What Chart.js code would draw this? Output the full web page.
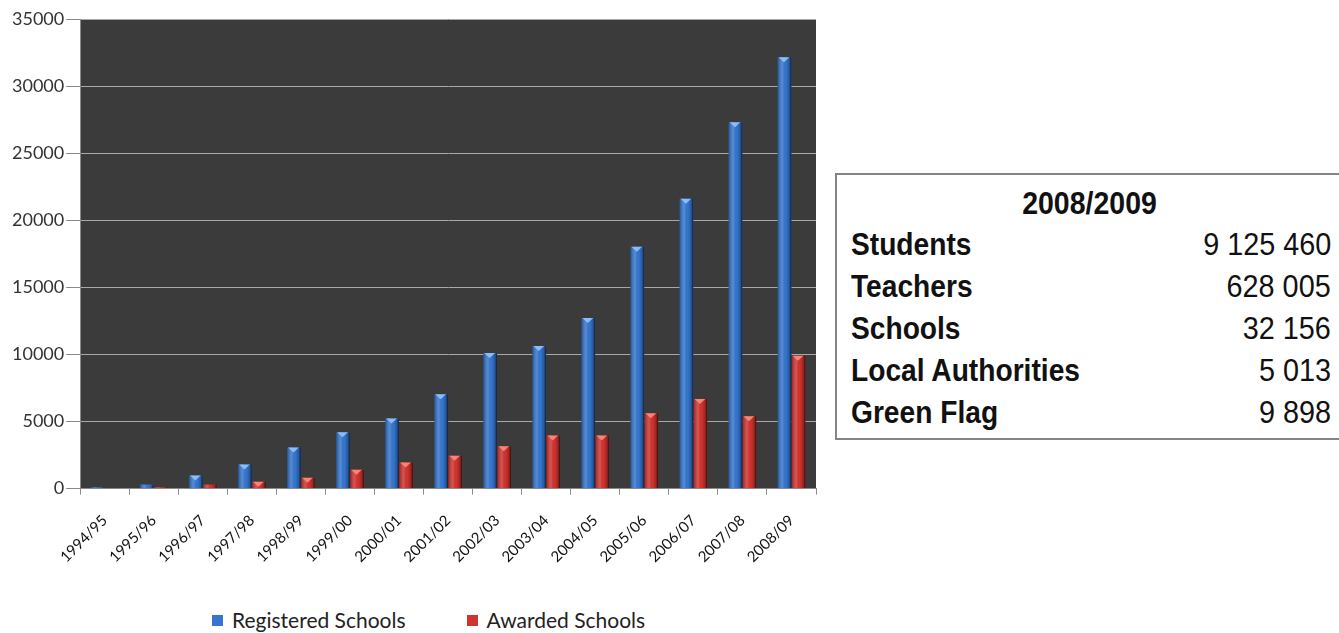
<!DOCTYPE html>
<html>
<head>
<meta charset="utf-8">
<script src="https://cdn.jsdelivr.net/npm/chart.js@4.4.1/dist/chart.umd.min.js"></script>
<style>
  body { margin: 0; background: #fff; width: 1339px; height: 633px; overflow: hidden; position: relative; font-family: Lato, sans-serif; }
  #chart-wrap { position: absolute; left: 0; top: 0; width: 826px; height: 583px; }
  #legend { position: absolute; top: 608px; left: 212px; display: flex; font-size: 21px; color: #222; line-height: 24px; }
  .legend-item { display: flex; align-items: center; margin-right: 61px; }
  .legend-box { width: 11px; height: 11px; margin-right: 9px; }
  #stats { position: absolute; left: 835px; top: 173px; width: 540px; height: 263px; border: 2px solid #858585; font-family: "Liberation Sans Narrow", "Arial Narrow", "Liberation Sans", sans-serif; color: #111; }
  #stats .title { position: absolute; left: 0; top: 8px; width: 505px; text-align: center; font-weight: bold; font-size: 32px; line-height: 40px; transform: scaleX(0.89); }
  #stats .row { position: absolute; left: 14px; width: 480px; font-size: 32px; line-height: 42px; }
  #stats .row b { position: absolute; left: 0; top: 0; white-space: nowrap; transform: scaleX(0.88); transform-origin: left center; }
  #stats .row span { position: absolute; right: 0; top: 0; white-space: nowrap; transform: scaleX(0.9); transform-origin: right center; }
</style>
</head>
<body>
<div id="chart-wrap"><canvas id="schoolsChart"></canvas></div>
<div id="legend"></div>
<div id="stats"></div>

<script>
const years = ["1994/95", "1995/96", "1996/97", "1997/98", "1998/99", "1999/00", "2000/01",
  "2001/02", "2002/03", "2003/04", "2004/05", "2005/06", "2006/07", "2007/08", "2008/09"];
const registered = [100, 300, 970, 1800, 3070, 4190, 5230, 7030, 10100, 10620, 12720, 18020, 21610, 27300, 32156];
const awarded = [20, 100, 300, 500, 800, 1400, 1950, 2450, 3150, 3960, 3960, 5610, 6680, 5390, 9898];
const yTicks = [0, 5000, 10000, 15000, 20000, 25000, 30000, 35000];

const statsTitle = "2008/2009";
const statsLabels = ["Students", "Teachers", "Schools", "Local Authorities", "Green Flag"];
const statsValues = ["9 125 460", "628 005", "32 156", "5 013", "9 898"];

// dark plot background like the old Excel chart
const plotBackground = {
  id: "plotBackground",
  beforeDraw(chart) {
    const { ctx, chartArea } = chart;
    ctx.save();
    ctx.fillStyle = "#3b3b3b";
    ctx.fillRect(chartArea.left, chartArea.top, chartArea.right - chartArea.left, chartArea.bottom - chartArea.top);
    ctx.restore();
  }
};

// cylinder shading + little chevron on top of each bar
const barShine = {
  id: "barShine",
  afterDatasetsDraw(chart) {
    const ctx = chart.ctx;
    chart.data.datasets.forEach((ds, i) => {
      const meta = chart.getDatasetMeta(i);
      meta.data.forEach(bar => {
        const left = bar.x - bar.width / 2;
        const right = bar.x + bar.width / 2;
        const h = bar.base - bar.y;
        if (h <= 0) return;
        ctx.save();
        const g = ctx.createLinearGradient(left, 0, right, 0);
        g.addColorStop(0, "rgba(0,0,0,0.30)");
        g.addColorStop(0.35, "rgba(255,255,255,0.16)");
        g.addColorStop(0.6, "rgba(0,0,0,0)");
        g.addColorStop(0.85, "rgba(0,0,0,0.25)");
        g.addColorStop(1, "rgba(0,0,0,0.75)");
        ctx.fillStyle = g;
        ctx.fillRect(left, bar.y, bar.width, h);
        if (h > 6) {
          ctx.fillStyle = ds.capColor;
          ctx.beginPath();
          ctx.moveTo(left + 1, bar.y);
          ctx.lineTo(right - 2, bar.y);
          ctx.lineTo(bar.x - 0.5, bar.y + 5);
          ctx.closePath();
          ctx.fill();
        }
        ctx.restore();
      });
    });
  }
};

const chart = new Chart(document.getElementById("schoolsChart"), {
  type: "bar",
  data: {
    labels: years,
    datasets: [
      { label: "Registered Schools", data: registered, backgroundColor: "#3576cf", capColor: "rgba(150,195,250,0.9)" },
      { label: "Awarded Schools", data: awarded, backgroundColor: "#d1332e", capColor: "rgba(250,140,130,0.9)" }
    ]
  },
  options: {
    responsive: true,
    maintainAspectRatio: false,
    animation: false,
    categoryPercentage: 0.57,
    barPercentage: 0.98,
    layout: { padding: { left: 10, top: 19, right: 10, bottom: 0 } },
    plugins: {
      legend: { display: false },
      tooltip: { enabled: false }
    },
    scales: {
      x: {
        grid: { drawOnChartArea: false, color: "#8a8a8a", tickLength: 6, offset: true },
        border: { color: "#8a8a8a" },
        ticks: { color: "#111", font: { family: "Lato", size: 15 }, minRotation: 45, maxRotation: 45, padding: 17 }
      },
      y: {
        min: 0,
        max: 35000,
        afterBuildTicks: axis => { axis.ticks = yTicks.map(v => ({ value: v })); },
        grid: { color: "#a9a9a9", tickColor: "#8a8a8a", tickLength: 14 },
        border: { color: "#8a8a8a" },
        ticks: { color: "#333", font: { family: "Lato", size: 18 }, padding: 2, callback: v => String(v) }
      }
    }
  },
  plugins: [plotBackground, barShine]
});

document.getElementById("legend").innerHTML = chart.data.datasets.map(ds => `
  <div class="legend-item">
    <div class="legend-box" style="background:${ds.backgroundColor}"></div>${ds.label}
  </div>`).join("");

document.getElementById("stats").innerHTML =
  `<div class="title">${statsTitle}</div>` +
  statsLabels.map((label, i) => `
    <div class="row" style="top:${48 + i * 42}px"><b>${label}</b><span>${statsValues[i]}</span></div>
  `).join("");
</script>
</body>
</html>
